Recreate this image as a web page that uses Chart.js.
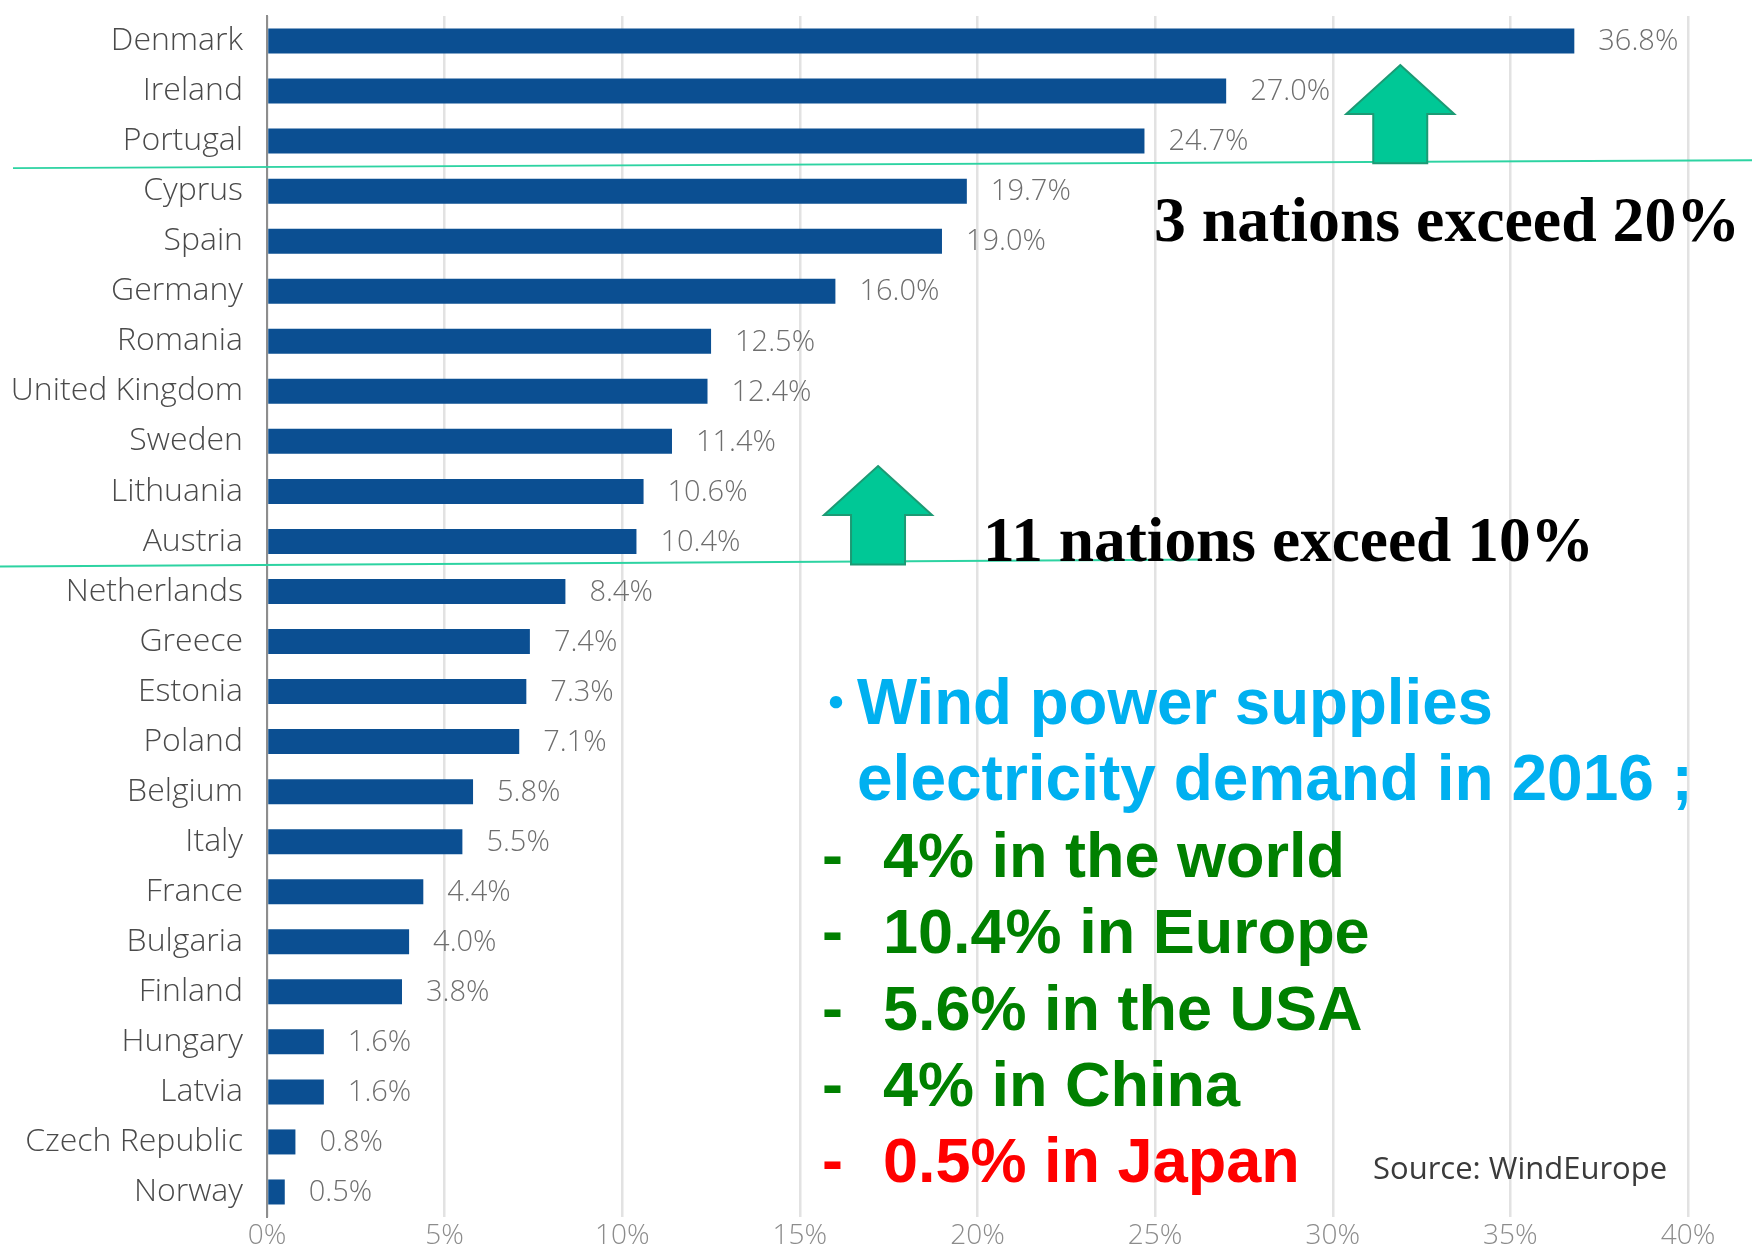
<!DOCTYPE html>
<html>
<head>
<meta charset="utf-8">
<script src="https://cdn.jsdelivr.net/npm/chart.js"></script>
<style>
  html, body { margin: 0; padding: 0; background: #fff; }
  #wrap { width: 1752px; height: 1246px; }
</style>
</head>
<body>
<div id="wrap"><canvas id="c" width="1752" height="1246"></canvas></div>
<script>
// Share of electricity demand met by wind power, 2016 (%)
const countries = [
  'Denmark', 'Ireland', 'Portugal', 'Cyprus', 'Spain', 'Germany', 'Romania',
  'United Kingdom', 'Sweden', 'Lithuania', 'Austria', 'Netherlands', 'Greece',
  'Estonia', 'Poland', 'Belgium', 'Italy', 'France', 'Bulgaria', 'Finland',
  'Hungary', 'Latvia', 'Czech Republic', 'Norway'
];
const windShare = [
  36.8, 27.0, 24.7, 19.7, 19.0, 16.0, 12.5,
  12.4, 11.4, 10.6, 10.4, 8.4, 7.4,
  7.3, 7.1, 5.8, 5.5, 4.4, 4.0, 3.8,
  1.6, 1.6, 0.8, 0.5
];
const xTickLabels = ['0%', '5%', '10%', '15%', '20%', '25%', '30%', '35%', '40%'];

const headline20 = '3 nations exceed 20%';
const headline10 = '11 nations exceed 10%';
const bulletMark = '・';
const summaryTitle = ['Wind power supplies', 'electricity demand in 2016 ;'];
const summaryItems = ['4% in the world', '10.4% in Europe', '5.6% in the USA', '4% in China', '0.5% in Japan'];
const summaryColors = ['#008000', '#008000', '#008000', '#008000', '#ff0000'];
const sourceNote = 'Source: WindEurope';

const whiteBackground = {
  id: 'whiteBackground',
  beforeDraw(chart) {
    const { ctx, width, height } = chart;
    ctx.save();
    ctx.fillStyle = '#ffffff';
    ctx.fillRect(0, 0, width, height);
    ctx.restore();
  }
};

// percentage printed to the right of every bar
const valueLabels = {
  id: 'valueLabels',
  afterDatasetsDraw(chart) {
    const { ctx } = chart;
    const meta = chart.getDatasetMeta(0);
    ctx.save();
    ctx.font = '300 29px "Open Sans"';
    ctx.fillStyle = '#6e6e6e';
    ctx.textAlign = 'left';
    ctx.textBaseline = 'middle';
    meta.data.forEach((bar, i) => {
      ctx.fillText(windShare[i].toFixed(1) + '%', bar.x + 24, bar.y + 1);
    });
    ctx.restore();
  }
};

function upArrow(ctx, cx, top, bottom) {
  const headH = 49, headHalf = 54, shaftHalf = 27;
  ctx.beginPath();
  ctx.moveTo(cx, top);
  ctx.lineTo(cx + headHalf, top + headH);
  ctx.lineTo(cx + shaftHalf, top + headH);
  ctx.lineTo(cx + shaftHalf, bottom);
  ctx.lineTo(cx - shaftHalf, bottom);
  ctx.lineTo(cx - shaftHalf, top + headH);
  ctx.lineTo(cx - headHalf, top + headH);
  ctx.closePath();
  ctx.fillStyle = '#00c896';
  ctx.fill();
  ctx.strokeStyle = '#1c9a74';
  ctx.lineWidth = 2;
  ctx.stroke();
}

// divider lines, arrows and the text panel
const notes = {
  id: 'notes',
  afterDraw(chart) {
    const { ctx } = chart;
    const xs = chart.scales.x, ys = chart.scales.y;
    ctx.save();

    const y20 = ys.getPixelForValue(2.5);
    const y10 = ys.getPixelForValue(10.5);
    ctx.strokeStyle = '#2dd3a2';
    ctx.lineWidth = 2;
    ctx.beginPath();
    ctx.moveTo(13, y20 + 2); ctx.lineTo(1752, y20 - 6);
    ctx.moveTo(0, y10); ctx.lineTo(1212, y10 - 7);
    ctx.stroke();

    upArrow(ctx, xs.getPixelForValue(31.9), 65, y20 - 3);
    upArrow(ctx, xs.getPixelForValue(17.2), 466, y10 - 2);

    ctx.fillStyle = '#000000';
    ctx.textAlign = 'left';
    ctx.textBaseline = 'alphabetic';
    ctx.font = 'bold 64px "Liberation Serif", "Times New Roman", serif';
    ctx.fillText(headline20, 1154, 241, 586);
    ctx.fillText(headline10, 983, 561, 611);

    ctx.fillStyle = '#00b0f0';
    ctx.font = 'bold 48px "Noto Sans CJK JP"';
    ctx.textAlign = 'center';
    ctx.fillText(bulletMark, 836, 720);
    ctx.textAlign = 'left';
    ctx.font = 'bold 64px "Liberation Sans", Arial, sans-serif';
    ctx.fillText(summaryTitle[0], 857, 724, 636);
    ctx.fillText(summaryTitle[1], 857, 800, 836);

    ctx.font = 'bold 63px "Liberation Sans", Arial, sans-serif';
    summaryItems.forEach((t, i) => {
      const base = 877 + i * 76.3;
      ctx.fillStyle = summaryColors[i];
      ctx.fillText('-', 822, base);
      ctx.fillText(t, 883, base);
    });

    ctx.fillStyle = '#3a3a3a';
    ctx.font = '31px "Open Sans"';
    ctx.fillText(sourceNote, 1373, 1179, 296);
    ctx.restore();
  }
};

new Chart(document.getElementById('c'), {
  type: 'bar',
  data: {
    labels: countries,
    datasets: [{
      data: windShare,
      backgroundColor: '#0b4f92',
      barPercentage: 0.5,
      categoryPercentage: 1
    }]
  },
  options: {
    indexAxis: 'y',
    responsive: false,
    animation: false,
    devicePixelRatio: 1,
    layout: { padding: { top: 16, right: 64, left: 0, bottom: 0 } },
    plugins: { legend: { display: false }, tooltip: { enabled: false } },
    scales: {
      x: {
        type: 'linear',
        position: 'bottom',
        min: 0,
        max: 40,
        ticks: {
          stepSize: 5,
          autoSkip: false,
          maxRotation: 0,
          padding: 2,
          color: '#8c8c8c',
          font: { family: 'Open Sans', size: 28, weight: '300' },
          callback: v => xTickLabels[Math.round(v / 5)]
        },
        grid: { color: '#e2e2e2', lineWidth: 2.5, drawTicks: false },
        border: { display: false },
        afterFit: s => { s.height = 29; s.paddingLeft = 0; s.paddingRight = 0; }
      },
      y: {
        ticks: {
          autoSkip: false,
          padding: 24,
          color: '#4a4a4a',
          font: { family: 'Open Sans', size: 32, weight: '300' }
        },
        grid: { display: false, drawTicks: false },
        border: { display: true, color: '#8e8e8e', width: 2 },
        afterFit: s => { s.width = 267; s.paddingTop = 0; s.paddingBottom = 0; }
      }
    }
  },
  plugins: [whiteBackground, valueLabels, notes]
});
</script>
</body>
</html>
